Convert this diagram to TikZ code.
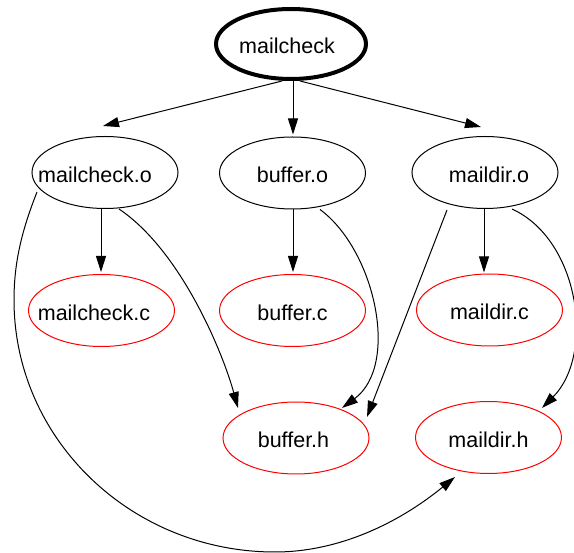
\documentclass[tikz,border=0pt]{standalone}
\usepackage{fontspec}
\setmainfont{Liberation Sans}
\usetikzlibrary{shapes.geometric,arrows.meta,calc}
\begin{document}
\begin{tikzpicture}[x=1pt,y=-1pt,
  nd/.style={ellipse, draw, line width=1pt, minimum width=146pt, minimum height=72pt,
    inner sep=0pt, text height=20pt, text depth=0pt, font=\fontsize{21.5}{24}\selectfont},
  src/.style={nd, draw=red},
  root/.style={nd, line width=4pt, minimum width=150pt, minimum height=70pt},
  edge/.style={line width=1pt, -{Triangle[length=16pt,width=10pt]}}]
\useasboundingbox (0,0) rectangle (574,553);

\node[root] (mc)  at (291,44)      {\hspace*{-8pt}mailcheck};
\node[nd]   (mco) at (105,172.5)   {\hspace*{-20pt}mailcheck.o};
\node[nd]   (bo)  at (292.5,173)   {buffer.o};
\node[nd]   (mdo) at (485,172.5)   {maildir.o\hspace*{-8pt}};
\node[src]  (mcc) at (101.5,310.5) {\hspace*{-15pt}mailcheck.c};
\node[src]  (bc)  at (292.5,310.5) {buffer.c};
\node[src]  (mdc) at (489.5,310)   {maildir.c};
\node[src]  (bh)  at (296,438)     {\hspace*{-5pt}buffer.h};
\node[src]  (mdh) at (488.5,437.5) {maildir.h};

% from mailcheck
\draw[edge] ($(mc.south)+(-9,0)$) -- ($(mco.north)+(-2,-10)$);
\draw[edge] ($(mc.south)+(2,0)$) -- ($(bo.north)+(0.5,-2)$);
\draw[edge] ($(mc.south)+(9,0)$) -- ($(mdo.north)+(-4,-9)$);

% straight down
\draw[edge] ($(mco.south)+(-4,0)$) -- ($(mcc.north)+(-0.5,-2)$);
\draw[edge] ($(bo.south)+(0.5,0)$) -- ($(bc.north)+(0.5,-2)$);
\draw[edge] ($(mdo.south)+(-1,0)$) -- ($(mdc.north)+(-5.5,-1)$);

% curves
\draw[edge] ($(mco.south)+(14,0)$) .. controls (180,250) and (222,350) .. ($(bh)+(-58,-30)$);
\draw[edge] ($(bo.south)+(27.5,0)$) .. controls (375,250) and (400,365) .. ($(bh)+(46,-30)$);
\draw[edge] ($(mdo.south)+(-38,1)$) -- ($(bh)+(71,-21)$);
\draw[edge] ($(mdo.south)+(27,0)$) .. controls (580,240) and (595,355) .. ($(mdh)+(53.5,-29.5)$);
\draw[edge] ($(mco)+(-68,19.5)$) .. controls (22,230) and (14,262) .. (14,300)
  .. controls (14,439) and (131,552) .. (275,552)
  .. controls (340,552) and (400,522) .. ($(mdh)+(-33.5,39.5)$);
\end{tikzpicture}
\end{document}
